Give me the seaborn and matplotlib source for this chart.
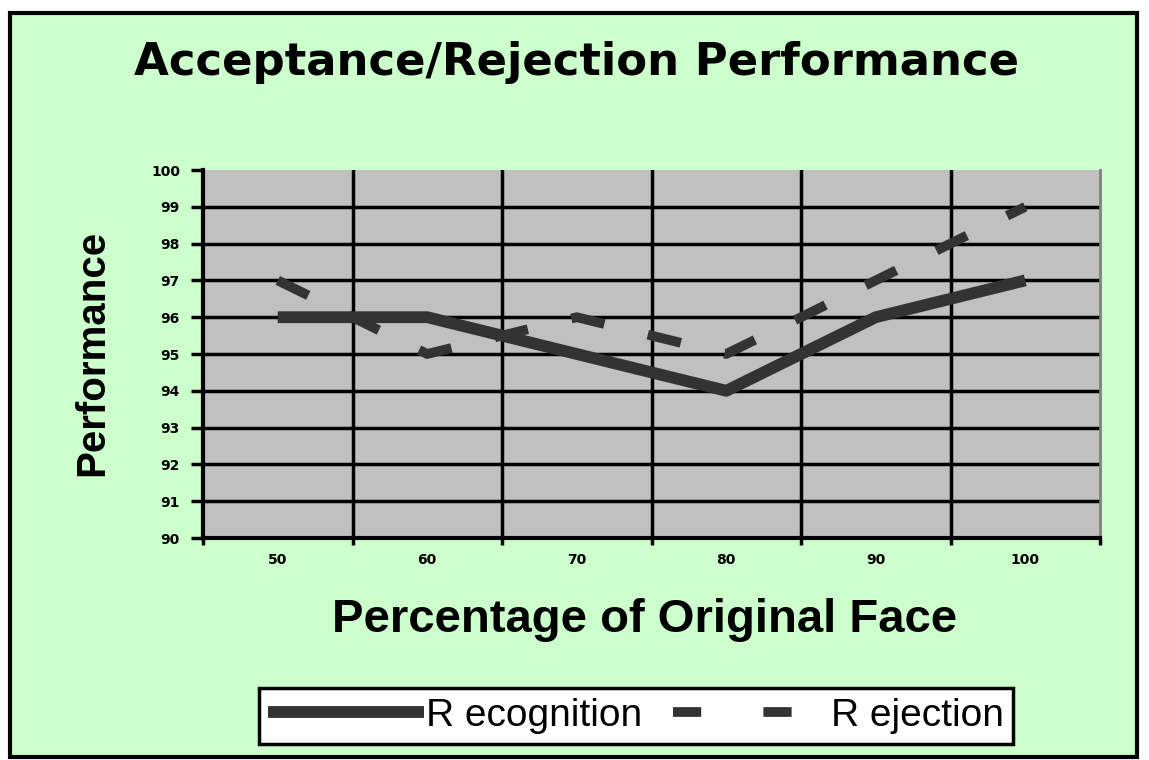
import numpy as np
import matplotlib
matplotlib.use("Agg")
import matplotlib.pyplot as plt
from matplotlib.patches import Rectangle
import seaborn as sns

# data
percent = [50, 60, 70, 80, 90, 100]
recognition = [96, 96, 95, 94, 96, 97]
rejection = [97, 95, 96, 95, 97, 99]
y_ticks = [90, 91, 92, 93, 94, 95, 96, 97, 98, 99, 100]

line_col = "#333333"

sns.set_style("white")
plt.rcParams["font.family"] = ["Liberation Sans", "DejaVu Sans"]
plt.rcParams["text.color"] = "black"
plt.rcParams["xtick.color"] = "black"
plt.rcParams["ytick.color"] = "black"

fig = plt.figure(figsize=(11.49, 7.6), dpi=100)
fig.patch.set_facecolor("white")
# green background with the black frame round it
fig.patches.append(Rectangle((9.5 / 1149, 3 / 760), 1127 / 1149, 744 / 760,
                             transform=fig.transFigure, facecolor="#CCFFCC",
                             edgecolor="black", linewidth=3, zorder=-10))

ax = fig.add_axes([203 / 1149, 1 - 538 / 760, 897 / 1149, 368 / 760])
ax.set_facecolor("#C0C0C0")

pos = np.arange(len(percent))
sns.lineplot(x=pos, y=recognition, ax=ax, color=line_col, linewidth=8.5,
             label="R ecognition", solid_capstyle="butt", zorder=3)
sns.lineplot(x=pos, y=rejection, ax=ax, color=line_col, linewidth=7,
             linestyle=(0, (3.5, 4.6)), dash_capstyle="butt",
             label="R ejection", zorder=3)

ax.set_xlim(-0.5, len(percent) - 0.5)
ax.set_ylim(90, 100)

# category labels at centres, tick marks and dividers at the boundaries
ax.set_xticks(pos)
ax.set_xticklabels(percent, fontsize=10, fontweight="bold", family="DejaVu Sans")
ax.tick_params(axis="x", which="major", length=0, pad=11)
ax.set_xticks(np.arange(-0.5, len(percent), 1), minor=True)
ax.tick_params(axis="x", which="minor", length=5, width=2.5, direction="out",
               color="black", bottom=True)
for b in pos[:-1] + 0.5:
    ax.axvline(b, color="black", linewidth=2.5, zorder=1)

ax.set_yticks(y_ticks)
ax.set_yticklabels(y_ticks, fontsize=10, fontweight="bold", family="DejaVu Sans")
ax.tick_params(axis="y", length=8.6, width=2.5, direction="out", pad=8,
               color="black", left=True)
for v in y_ticks[1:-1]:
    ax.axhline(v, color="black", linewidth=2.5, zorder=1)

ax.spines["top"].set_visible(False)
ax.spines["right"].set_color("#808080")
ax.spines["right"].set_linewidth(2)
ax.spines["left"].set_color("black")
ax.spines["left"].set_linewidth(3)
ax.spines["bottom"].set_color("black")
ax.spines["bottom"].set_linewidth(3)

ax.set_xlabel("")
ax.set_ylabel("")

fig.text(577 / 1149, 1 - 63 / 760, "Acceptance/Rejection Performance",
         ha="center", va="center", fontsize=32.4, fontweight="bold",
         family="DejaVu Sans")
fig.text(645 / 1149, 1 - 620 / 760, "Percentage of Original Face",
         ha="center", va="center", fontsize=34, fontweight="bold")
fig.text(92 / 1149, 1 - 353 / 760, "Performance", rotation=90,
         ha="center", va="center", fontsize=29, fontweight="bold")

handles, labels = ax.get_legend_handles_labels()
ax.get_legend().remove()
leg = fig.legend(handles, labels, loc="center",
                 bbox_to_anchor=(636 / 1149, 1 - 716 / 760), ncol=2,
                 fontsize=28, frameon=True, fancybox=False, handlelength=4.0,
                 handletextpad=0.05, columnspacing=0.8, borderpad=0.25,
                 borderaxespad=0)
leg.get_frame().set_edgecolor("black")
leg.get_frame().set_facecolor("white")
leg.get_frame().set_linewidth(2.5)
leg.get_frame().set_alpha(1)
leg.get_lines()[1].set_linestyle((0, (2.9, 6.4)))

fig.savefig("out.png", dpi=100)
